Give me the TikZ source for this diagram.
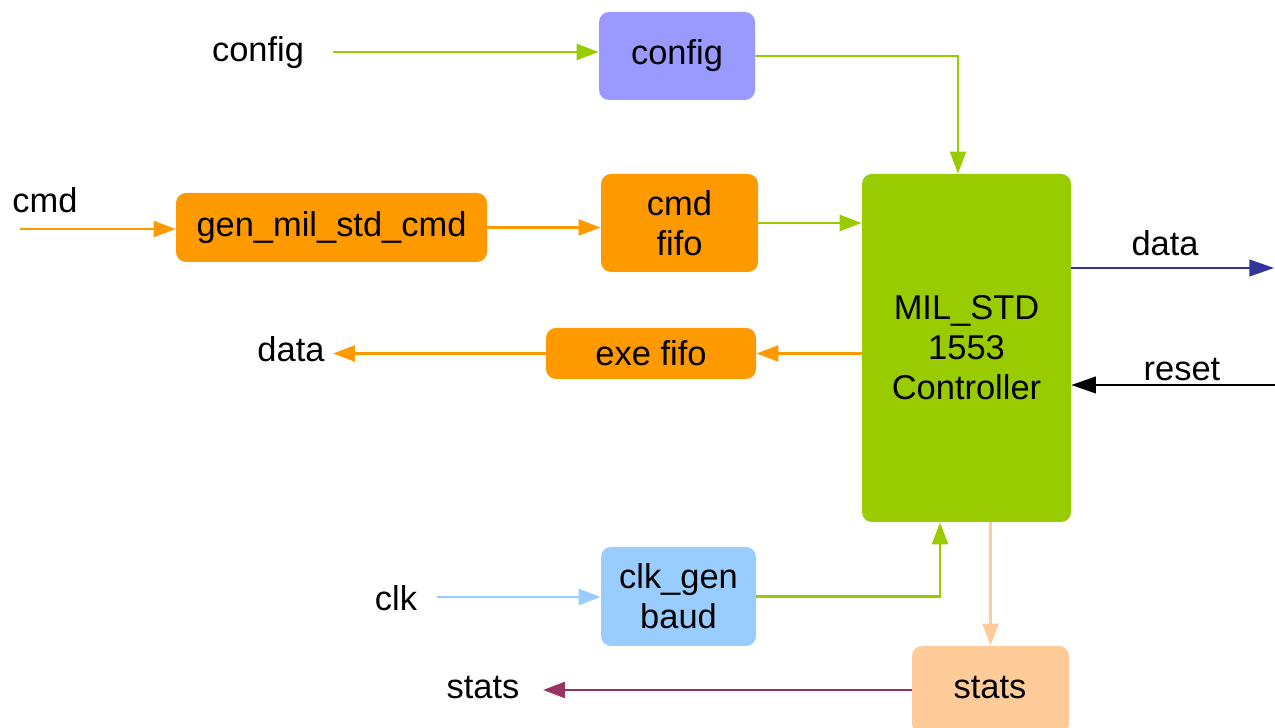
\documentclass[tikz,border=0pt]{standalone}
\usepackage{fontspec}
\setmainfont{Liberation Sans}
\usetikzlibrary{arrows.meta}

\definecolor{cfgblue}{HTML}{9999FF}
\definecolor{ctrlgreen}{HTML}{99CC00}
\definecolor{fifoorange}{HTML}{FF9900}
\definecolor{clkblue}{HTML}{99CCFF}
\definecolor{statspeach}{HTML}{FFCC99}
\definecolor{dataout}{HTML}{333399}
\definecolor{statsred}{HTML}{993366}

\begin{document}
\begin{tikzpicture}[
    font=\fontsize{19.6}{22.7}\selectfont,
    block/.style={rounded corners=0.2cm,align=center,inner sep=0pt},
    sig/.style={line width=1.6pt,-{Triangle[length=12.5pt,width=9pt]}},
    thinsig/.style={line width=1.1pt,-{Triangle[length=14pt,width=9.5pt]}}
  ]
  \useasboundingbox (0,0) rectangle (25.5,14.56);
  % Draw blocks
  \node[block,fill=ctrlgreen,minimum width=4.18cm,minimum height=6.96cm] (ctrl) at (19.33,7.6) {MIL\_STD\\1553\\Controller};
  \node[block,fill=cfgblue,minimum width=3.12cm,minimum height=1.76cm] (cfg) at (13.54,13.44) {config};
  \node[block,fill=fifoorange,minimum width=6.22cm,minimum height=1.38cm] (gen) at (6.63,10.01) {gen\_mil\_std\_cmd};
  \node[block,fill=fifoorange,minimum width=3.14cm,minimum height=1.96cm] (cmdfifo) at (13.59,10.1) {cmd\\fifo};
  \node[block,fill=fifoorange,minimum width=4.2cm,minimum height=1.02cm] (exefifo) at (13.02,7.49) {exe fifo};
  \node[block,fill=clkblue,minimum width=3.1cm,minimum height=1.98cm] (clkgen) at (13.57,2.63) {clk\_gen\\baud};
  \node[block,fill=statspeach,minimum width=3.14cm,minimum height=1.76cm] (stats) at (19.81,0.76) {};
  \node (statstxt) at (19.8,0.8) {stats};
  % Port labels
  \foreach \x/\y/\name/\txt in {5.16/13.5/lcfg/config,0.9/10.56/lcmd/cmd,5.82/7.58/ldata/data,7.92/2.6/lclk/clk,9.66/0.8/lstats/stats,23.3/9.7/ldout/data,23.64/7.16/lreset/reset} {
    \node (\name) at (\x,\y) {\txt};
  }
  % Free ends
  \coordinate (cfgin) at (6.66,13.52);
  \coordinate (cmdin) at (0.4,9.98);
  \coordinate (exeout) at (6.66,7.5);
  \coordinate (dright) at (25.48,9.2);
  \coordinate (rright) at (25.5,6.86);
  \coordinate (clkin) at (8.74,2.62);
  \coordinate (statsout) at (10.86,0.78);
  % Connections
  \draw[sig,ctrlgreen] (cfgin) -- (cfgin -| cfg.west);
  \draw[sig,ctrlgreen] (cfg.east) -| ([xshift=-0.17cm]ctrl.north);
  \draw[sig,fifoorange] (cmdin) -- (cmdin -| gen.west);
  \draw[sig,fifoorange] (gen.east) -- (gen.east -| cmdfifo.west);
  \draw[sig,ctrlgreen] (cmdfifo.east) -- (cmdfifo.east -| ctrl.west);
  \draw[sig,fifoorange] (exefifo.east -| ctrl.west) -- (exefifo.east);
  \draw[sig,fifoorange] (exefifo.west) -- (exefifo.west -| exeout);
  \draw[thinsig,dataout] (dright -| ctrl.east) -- (dright);
  \draw[thinsig,black] (rright) -- (rright -| ctrl.east);
  \draw[sig,clkblue] (clkin) -- (clkin -| clkgen.west);
  \draw[sig,ctrlgreen] (clkgen.east) -| ([xshift=-0.53cm]ctrl.south);
  \draw[sig,statspeach] (stats.north |- ctrl.south) -- (stats.north);
  \draw[sig,statsred] (stats.west) -- (stats.west -| statsout);
\end{tikzpicture}
\end{document}
